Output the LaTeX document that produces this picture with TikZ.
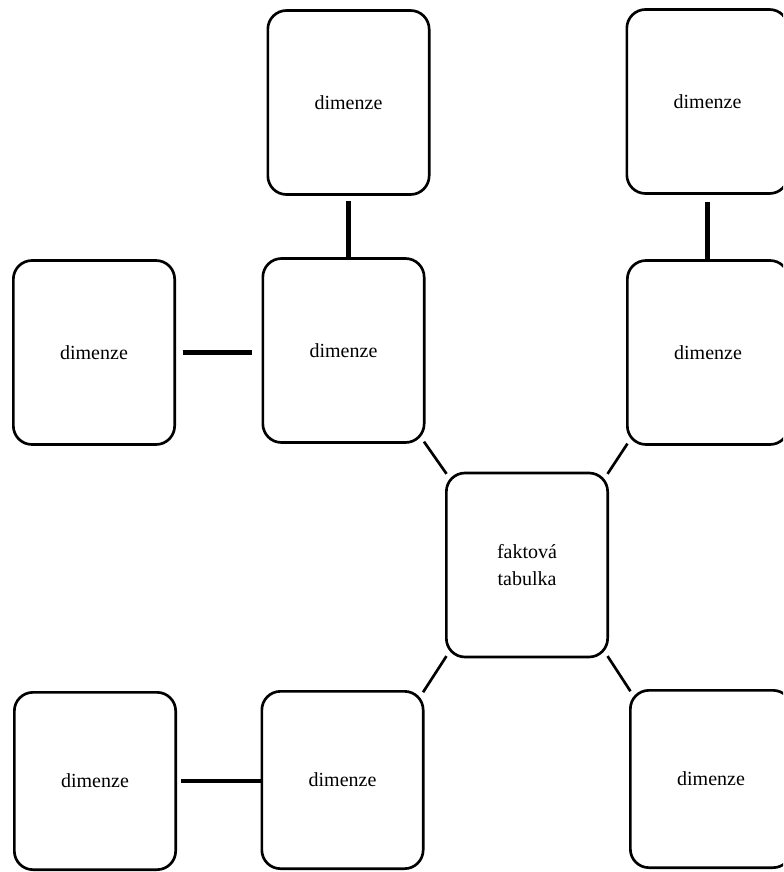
\documentclass[tikz,border=0pt]{standalone}
\usepackage{fontspec}
\newfontfamily\boxfont{Liberation Serif}
\begin{document}
\begin{tikzpicture}[x=0.75pt,y=-0.75pt,
  dimbox/.style={draw=black,line width=2pt,rounded corners=14pt,fill=white,
    minimum width=121pt,minimum height=138pt,inner sep=0pt,align=center,
    font=\boxfont\fontsize{15}{20}\selectfont},
  lowbox/.style={dimbox,minimum height=133pt},
  thicklink/.style={line width=3.6pt},
  thinlink/.style={line width=2pt,shorten <=-2pt,shorten >=-2pt}]
  \useasboundingbox (0,0) rectangle (783,872);
  \clip (0,0) rectangle (783,872);

  % boxes
  \node[dimbox] (tm) at (348.5,102.5) {dimenze};
  \node[dimbox] (tr) at (707.5,101.5) {dimenze};
  \node[dimbox] (ml) at (94,352.5) {dimenze};
  \node[dimbox] (mm) at (343.5,350.5) {dimenze};
  \node[dimbox] (mr) at (708,352.5) {dimenze};
  \node[dimbox] (fact) at (527,565) {faktová\\tabulka};
  \node[lowbox] (bl) at (95,781) {dimenze};
  \node[lowbox] (bm) at (342.5,780) {dimenze};
  \node[lowbox] (br) at (711,779) {dimenze};

  % straight links between dimensions
  \draw[thicklink,shorten <=4pt] (tm.south) -- (tm.south |- mm.north);
  \draw[thicklink,shorten <=5pt,shorten >=7pt] (ml.east) -- (ml.east -| mm.west);
  \draw[thicklink,shorten <=5pt] (tr.south) -- (tr.south |- mr.north);
  \draw[thicklink,shorten <=3pt] (bl.east) -- (bl.east -| bm.west);

  % diagonal links to the fact table
  \draw[thinlink] (mm.south east) -- (fact.north west);
  \draw[thinlink] (mr.south west) -- (fact.north east);
  \draw[thinlink] (fact.south west) -- (bm.north east);
  \draw[thinlink] (fact.south east) -- (br.north west);
\end{tikzpicture}
\end{document}
